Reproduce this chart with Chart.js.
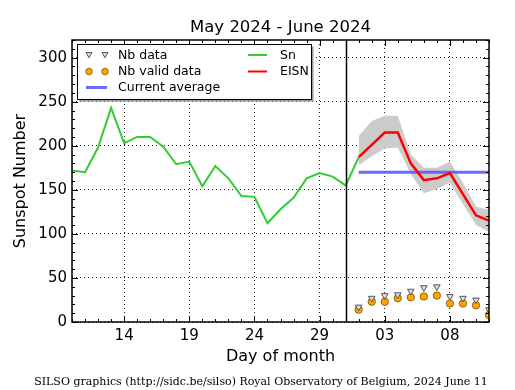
<!DOCTYPE html>
<html>
<head>
<meta charset="utf-8">
<script src="https://cdn.jsdelivr.net/npm/chart.js@4.4.1/dist/chart.umd.min.js"></script>
<style>
  html, body { margin: 0; padding: 0; background: #fff; }
  canvas { display: block; }
</style>
</head>
<body>
<canvas id="chart" width="515" height="390"></canvas>
<script>
// Day index: May days as-is, June days continue after 31 (Jun 1 = 32).
const snDays = [10, 11, 12, 13, 14, 15, 16, 17, 18, 19, 20, 21, 22, 23, 24, 25, 26, 27, 28, 29, 30, 31, 32];
const snValues = [172, 170, 198, 243, 203, 210, 210, 199, 179, 182, 154, 177, 163, 143, 142, 112, 128, 141, 163, 169, 165, 155, 187];

const juneDays = [32, 33, 34, 35, 36, 37, 38, 39, 40, 41, 42];
const eisnValues = [187, 201, 215, 215, 180, 161, 163, 169, 145, 121, 115];
const eisnUpper = [211, 228, 234, 234, 190, 175, 175, 182, 158, 131, 127];
const eisnLower = [178, 188, 197, 198, 168, 146, 151, 158, 134, 110, 102];
const nbData = [17, 27, 30, 31, 35, 39, 40, 29, 27, 25, 14];
const nbValid = [14, 23, 23, 27, 28, 29, 30, 21, 21, 19, 8];
const currentAverage = 170;

const xTicks = [14, 19, 24, 29, 34, 39];
const xTickLabels = ['14', '19', '24', '29', '03', '08'];
const yTicks = [0, 50, 100, 150, 200, 250, 300];
const monthBreak = 31;

const pts = (xs, ys) => xs.map((x, i) => ({ x, y: ys[i] }));

Chart.defaults.font.family = '"DejaVu Sans", sans-serif';
Chart.defaults.color = '#000';

// Draws the matplotlib-style frame, inward ticks, month divider, legend and footer.
const decorations = {
  id: 'decorations',
  afterDatasetsDraw(chart) {
    const { ctx, chartArea: a, scales: { x, y } } = chart;
    ctx.save();
    // month divider
    ctx.strokeStyle = '#000';
    ctx.lineWidth = 1.5;
    const xm = Math.round(x.getPixelForValue(monthBreak)) + 0.5;
    ctx.beginPath(); ctx.moveTo(xm, a.top); ctx.lineTo(xm, a.bottom); ctx.stroke();

    // ticks, all four sides, pointing in
    ctx.lineWidth = 1;
    ctx.beginPath();
    for (let d = 10; d <= 42; d++) {
      const px = Math.round(x.getPixelForValue(d)) + 0.5;
      const len = xTicks.includes(d) ? 6 : 3;
      ctx.moveTo(px, a.bottom); ctx.lineTo(px, a.bottom - len);
      ctx.moveTo(px, a.top); ctx.lineTo(px, a.top + len);
    }
    for (let v = 0; v <= 320; v += 10) {
      const py = Math.round(y.getPixelForValue(v)) + 0.5;
      const len = v % 50 === 0 ? 6 : 3;
      ctx.moveTo(a.left, py); ctx.lineTo(a.left + len, py);
      ctx.moveTo(a.right, py); ctx.lineTo(a.right - len, py);
    }
    ctx.stroke();

    // frame
    ctx.lineWidth = 1.5;
    ctx.strokeRect(a.left, a.top, a.right - a.left, a.bottom - a.top);
    ctx.restore();
  },
  afterDraw(chart) {
    const { ctx } = chart;
    ctx.save();
    // legend box with shadow
    const bx = 77.5, by = 44.5, bw = 234, bh = 55;
    ctx.fillStyle = '#999';
    ctx.fillRect(bx + 2, by + 2, bw, bh);
    ctx.fillStyle = '#fff';
    ctx.fillRect(bx, by, bw, bh);
    ctx.strokeStyle = '#000';
    ctx.lineWidth = 1;
    ctx.strokeRect(bx, by, bw, bh);

    const tri = (cx, cy) => {
      ctx.beginPath();
      ctx.moveTo(cx - 3, cy - 2.5); ctx.lineTo(cx + 3, cy - 2.5); ctx.lineTo(cx, cy + 2.8);
      ctx.closePath();
      ctx.fillStyle = '#ddd'; ctx.fill();
      ctx.strokeStyle = '#555'; ctx.lineWidth = 1; ctx.stroke();
    };
    const dot = (cx, cy) => {
      ctx.beginPath(); ctx.arc(cx, cy, 3.3, 0, Math.PI * 2);
      ctx.fillStyle = '#ffa500'; ctx.fill();
      ctx.strokeStyle = '#7a5200'; ctx.lineWidth = 0.8; ctx.stroke();
    };
    const seg = (x0, x1, yy, color, w) => {
      ctx.beginPath(); ctx.moveTo(x0, yy); ctx.lineTo(x1, yy);
      ctx.strokeStyle = color; ctx.lineWidth = w; ctx.stroke();
    };
    tri(89, 55); tri(105, 55);
    dot(89, 71.5); dot(105, 71.5);
    seg(86, 107, 87.5, 'rgba(90,90,255,0.9)', 3);
    seg(248, 267, 55, '#33cc33', 2);
    seg(248, 267, 71.5, '#ff0000', 2);

    ctx.fillStyle = '#000';
    ctx.font = '12.5px "DejaVu Sans"';
    ctx.textBaseline = 'middle';
    ctx.textAlign = 'left';
    ctx.fillText('Nb data', 118, 56);
    ctx.fillText('Nb valid data', 118, 72);
    ctx.fillText('Current average', 118, 87.5);
    ctx.fillText('Sn', 280, 56);
    ctx.fillText('EISN', 280, 72);

    // footer
    ctx.font = '11px "DejaVu Serif"';
    ctx.textAlign = 'center';
    ctx.fillText('SILSO graphics (http://sidc.be/silso) Royal Observatory of Belgium, 2024 June 11', 261, 382.5);
    ctx.restore();
  }
};

new Chart(document.getElementById('chart'), {
  type: 'line',
  data: {
    datasets: [
      {
        label: 'Nb data', data: pts(juneDays, nbData), showLine: false,
        pointStyle: 'triangle', rotation: 180, pointRadius: 3.8,
        pointBackgroundColor: '#ddd', pointBorderColor: '#555', pointBorderWidth: 1,
      },
      {
        label: 'Nb valid data', data: pts(juneDays, nbValid), showLine: false,
        pointStyle: 'circle', pointRadius: 3.7,
        pointBackgroundColor: '#ffa500', pointBorderColor: '#7a5200', pointBorderWidth: 0.8,
      },
      {
        label: 'Sn', data: pts(snDays, snValues),
        borderColor: '#33cc33', borderWidth: 2, pointRadius: 0, tension: 0,
      },
      {
        label: 'EISN', data: pts(juneDays, eisnValues),
        borderColor: '#ff0000', borderWidth: 2.5, pointRadius: 0, tension: 0,
      },
      {
        label: 'Current average',
        data: pts([juneDays[0], juneDays[juneDays.length - 1]], [currentAverage, currentAverage]),
        borderColor: 'rgba(90,90,255,0.9)', borderWidth: 3, pointRadius: 0,
      },
      {
        label: 'upper', data: pts(juneDays, eisnUpper),
        borderWidth: 0, pointRadius: 0, fill: '+1', backgroundColor: '#cccccc',
      },
      {
        label: 'lower', data: pts(juneDays, eisnLower),
        borderWidth: 0, pointRadius: 0, fill: false,
      },
    ]
  },
  options: {
    responsive: false,
    animation: false,
    devicePixelRatio: 1,
    layout: { padding: { left: 0, right: 26, top: 0, bottom: 0 } },
    plugins: {
      legend: { display: false },
      tooltip: { enabled: false },
      title: {
        display: true, text: 'May 2024 - June 2024', fullSize: false,
        font: { size: 16.5, weight: 'normal' }, color: '#000',
        padding: { top: 18, bottom: 2.2 },
      },
    },
    scales: {
      x: {
        type: 'linear', min: 10, max: 42,
        afterBuildTicks: s => { s.ticks = xTicks.map(v => ({ value: v })); },
        afterFit: s => { s.height = 68; },
        ticks: {
          autoSkip: false, maxRotation: 0, padding: 5,
          font: { size: 15 }, color: '#000',
          callback: v => xTickLabels[xTicks.indexOf(v)],
        },
        grid: { color: 'rgba(0,0,0,0.85)', lineWidth: 1, drawTicks: false },
        border: { display: false, dash: [1, 3] },
        title: {
          display: true, text: 'Day of month', color: '#000',
          font: { size: 16 }, padding: { top: 0, bottom: 23.4 },
        },
      },
      y: {
        min: 0, max: 320,
        afterBuildTicks: s => { s.ticks = yTicks.map(v => ({ value: v })); },
        afterFit: s => { s.width = 72; },
        ticks: { padding: 5, font: { size: 15 }, color: '#000' },
        grid: { color: 'rgba(0,0,0,0.85)', lineWidth: 1, drawTicks: false },
        border: { display: false, dash: [1, 3] },
        title: {
          display: true, text: 'Sunspot Number', color: '#000',
          font: { size: 16 }, padding: { top: 11.4, bottom: 0 },
        },
      },
    },
  },
  plugins: [decorations],
});
</script>
</body>
</html>
